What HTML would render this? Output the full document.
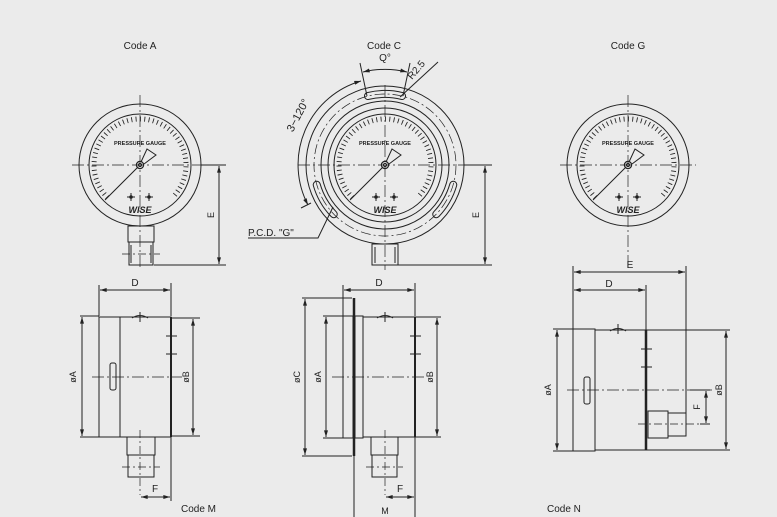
<!DOCTYPE html>
<html><head><meta charset="utf-8"><style>
html,body{margin:0;padding:0;background:#ebebeb;}
svg{display:block;}
text{font-family:"Liberation Sans",sans-serif;fill:#222;}
</style></head><body>
<svg width="777" height="517" viewBox="0 0 777 517" xmlns="http://www.w3.org/2000/svg">
<defs>
<marker id="ar" viewBox="0 0 10 6" refX="10" refY="3" markerWidth="7" markerHeight="4" orient="auto-start-reverse" markerUnits="userSpaceOnUse"><path d="M0,0 L10,3 L0,6 z" fill="#222"/></marker>
</defs>
<rect width="777" height="517" fill="#ebebeb"/>
<g fill="none" stroke="#222" stroke-width="1">

<g transform="translate(140,165)">
 <circle r="61"/><circle r="51"/>
 <path d="M-32.5,32.5 A46,46 0 1 1 32.5,32.5" stroke-width="5" pathLength="200" stroke-dasharray="0.8 3.2"/>
 <circle r="3.6" stroke-width="1.2"/><circle r="1.6"/>
 <path d="M-2,2 L-35,35 M1,-3 L7,-16 L16,-10 L4,-1"/>
 <path d="M-13,32 h8 M-9,28 v8 M5,32 h8 M9,28 v8"/>
 <circle cx="-9" cy="32" r="1.3" fill="#222"/><circle cx="9" cy="32" r="1.3" fill="#222"/>
</g>
<g transform="translate(628,165)">
 <circle r="61"/><circle r="51"/>
 <path d="M-32.5,32.5 A46,46 0 1 1 32.5,32.5" stroke-width="5" pathLength="200" stroke-dasharray="0.8 3.2"/>
 <circle r="3.6" stroke-width="1.2"/><circle r="1.6"/>
 <path d="M-2,2 L-35,35 M1,-3 L7,-16 L16,-10 L4,-1"/>
 <path d="M-13,32 h8 M-9,28 v8 M5,32 h8 M9,28 v8"/>
 <circle cx="-9" cy="32" r="1.3" fill="#222"/><circle cx="9" cy="32" r="1.3" fill="#222"/>
</g>
<g transform="translate(385,165)">
 <circle r="79"/><circle r="64"/><circle r="57"/><circle r="51"/>
 <path d="M-32.5,32.5 A46,46 0 1 1 32.5,32.5" stroke-width="5" pathLength="200" stroke-dasharray="0.8 3.2"/>
 <circle r="3.6" stroke-width="1.2"/><circle r="1.6"/>
 <path d="M-2,2 L-35,35 M1,-3 L7,-16 L16,-10 L4,-1"/>
 <path d="M-13,32 h8 M-9,28 v8 M5,32 h8 M9,28 v8"/>
 <circle cx="-9" cy="32" r="1.3" fill="#222"/><circle cx="9" cy="32" r="1.3" fill="#222"/>
 <g>
  <path d="M-17,-69 A71,71 0 0 1 17,-69" stroke-width="8" stroke-linecap="round"/>
  <path d="M-17,-69 A71,71 0 0 1 17,-69" stroke="#ebebeb" stroke-width="6" stroke-linecap="round"/>
 </g>
 <g transform="rotate(120)">
  <path d="M-17,-69 A71,71 0 0 1 17,-69" stroke-width="8" stroke-linecap="round"/>
  <path d="M-17,-69 A71,71 0 0 1 17,-69" stroke="#ebebeb" stroke-width="6" stroke-linecap="round"/>
 </g>
 <g transform="rotate(240)">
  <path d="M-17,-69 A71,71 0 0 1 17,-69" stroke-width="8" stroke-linecap="round"/>
  <path d="M-17,-69 A71,71 0 0 1 17,-69" stroke="#ebebeb" stroke-width="6" stroke-linecap="round"/>
 </g>
 <circle r="71" stroke-width="0.7" stroke-dasharray="10 3 2 3"/>
 <path d="M-18,-69 L-25,-102 M18,-69 L25,-102"/>
 <path d="M-22,-93 A95,95 0 0 1 22,-93" marker-start="url(#ar)" marker-end="url(#ar)"/>
 <path d="M15,-68 L53,-103"/>
 <path d="M-24,-84 A87,87 0 0 0 -77,40" marker-start="url(#ar)" marker-end="url(#ar)"/>
 <path d="M-74,38 L-84,43"/>
 <path d="M-52,42 L-67,73 L-137,73"/>
</g>

<g stroke-width="0.7" stroke-dasharray="12 3 2 3">
 <path d="M72,165 H210 M140,95 V270"/>
 <path d="M560,165 H696 M628,95 V270"/>
 <path d="M298,165 H472 M385,85 V270"/>
</g>

<path d="M128,226 h26 v16 h-26 z M129,242 h24 v23 h-24 z M131,245 v18 M151,245 v18"/>
<path d="M122,254 H160" stroke-width="0.7" stroke-dasharray="8 3 2 3"/>
<path d="M201,165 H226 M154,265 H226"/>
<path d="M219,166 V264" marker-start="url(#ar)" marker-end="url(#ar)"/>
<path d="M372,244 h26 v21 h-26 z M375,247 v16 M395,247 v16"/>
<path d="M464,165 H492 M398,265 H492"/>
<path d="M485,166 V264" marker-start="url(#ar)" marker-end="url(#ar)"/>

<path d="M99,317 h21 v120 h-21 z M120,317 h51 v120 h-51 z"/>
<path d="M171,317 V437" stroke-width="2"/>
<path d="M132,318 q8,-5 16,0 M140,312 v10"/>
<path d="M166,336 h11 M166,354 h11"/>
<rect x="110" y="363" width="6" height="27" rx="2"/>
<path d="M92,377 H182" stroke-width="0.7" stroke-dasharray="12 3 2 3"/>
<path d="M127,437 h28 v18 h-28 z M128,455 h26 v22 h-26 z"/>
<path d="M122,467 H160 M140,430 V495" stroke-width="0.7" stroke-dasharray="8 3 2 3"/>
<path d="M99,316 V285 M171,316 V283 M80,316 H99 M80,437 H99 M171,318 H200 M171,436 H200 M171,437 V501"/>
<path d="M100,290 H170" marker-start="url(#ar)" marker-end="url(#ar)"/>
<path d="M82,317 V436" marker-start="url(#ar)" marker-end="url(#ar)"/>
<path d="M193,319 V435" marker-start="url(#ar)" marker-end="url(#ar)"/>
<path d="M141,497 H170" marker-start="url(#ar)" marker-end="url(#ar)"/>

<path d="M343,316 h10 v122 h-10 z M355,316 h8 v122 h-8 z M363,317 h52 v120 h-52 z"/>
<path d="M354,298 V456" stroke-width="2.5"/>
<path d="M415,317 V437" stroke-width="2"/>
<path d="M377,318 q8,-5 16,0 M385,312 v10"/>
<path d="M410,336 h11 M410,354 h11"/>
<path d="M332,377 H425" stroke-width="0.7" stroke-dasharray="12 3 2 3"/>
<path d="M371,437 h27 v18 h-27 z M372,455 h25 v22 h-25 z"/>
<path d="M366,467 H403 M385,430 V495" stroke-width="0.7" stroke-dasharray="8 3 2 3"/>
<path d="M343,316 V285 M415,316 V283 M302,298 H352 M302,456 H352 M323,316 H343 M323,438 H343 M415,317 H441 M415,437 H441 M354,456 V517 M415,437 V517"/>
<path d="M344,290 H414" marker-start="url(#ar)" marker-end="url(#ar)"/>
<path d="M305,299 V455" marker-start="url(#ar)" marker-end="url(#ar)"/>
<path d="M326,317 V437" marker-start="url(#ar)" marker-end="url(#ar)"/>
<path d="M437,318 V436" marker-start="url(#ar)" marker-end="url(#ar)"/>
<path d="M386,497 H414" marker-start="url(#ar)" marker-end="url(#ar)"/>

<path d="M573,329 h22 v122 h-22 z M595,330 h51 v120 h-51 z"/>
<path d="M646,330 V450" stroke-width="2.5"/>
<path d="M610,331 q8,-5 16,0 M618,324 v10"/>
<path d="M641,349 h11 M641,367 h11"/>
<rect x="584" y="377" width="6" height="27" rx="2"/>
<path d="M567,390 H712" stroke-width="0.7" stroke-dasharray="12 3 2 3"/>
<path d="M648,411 h20 v27 h-20 z M668,413 h18 v23 h-18 z"/>
<path d="M638,424 H708" stroke-width="0.7" stroke-dasharray="8 3 2 3"/>
<path d="M573,329 V266 M646,330 V285 M686,413 V266 M553,329 H573 M553,451 H573 M646,330 H730 M646,450 H730 M700,424 H710 M690,390 H710"/>
<path d="M574,272 H685" marker-start="url(#ar)" marker-end="url(#ar)"/>
<path d="M574,290 H645" marker-start="url(#ar)" marker-end="url(#ar)"/>
<path d="M557,330 V450" marker-start="url(#ar)" marker-end="url(#ar)"/>
<path d="M726,331 V449" marker-start="url(#ar)" marker-end="url(#ar)"/>
<path d="M706,391 V423" marker-start="url(#ar)" marker-end="url(#ar)"/>
</g>

<g font-size="10">
<text x="140" y="49" text-anchor="middle">Code  A</text>
<text x="384" y="49" text-anchor="middle">Code  C</text>
<text x="628" y="49" text-anchor="middle">Code  G</text>
<text x="181" y="512">Code  M</text>
<text x="547" y="512">Code  N</text>
<text x="135" y="286" text-anchor="middle">D</text>
<text x="379" y="286" text-anchor="middle">D</text>
<text x="609" y="287" text-anchor="middle">D</text>
<text x="630" y="268" text-anchor="middle">E</text>
<text x="155" y="492" text-anchor="middle">F</text>
<text x="400" y="492" text-anchor="middle">F</text>
<text x="385" y="514" text-anchor="middle" font-size="9">M</text>
<text x="385" y="61" text-anchor="middle">Q°</text>
<text x="248" y="236">P.C.D.  "G"</text>
<text transform="translate(412,80) rotate(-50)">R2.5</text>
<text transform="translate(301,117) rotate(-62)" text-anchor="middle" font-size="11">3−120°</text>
<text transform="translate(214,215) rotate(-90)" text-anchor="middle" font-size="9">E</text>
<text transform="translate(479,215) rotate(-90)" text-anchor="middle" font-size="9">E</text>
<text transform="translate(700,407) rotate(-90)" text-anchor="middle" font-size="9">F</text>
<text transform="translate(76,377) rotate(-90)" text-anchor="middle" font-size="9">øA</text>
<text transform="translate(189,377) rotate(-90)" text-anchor="middle" font-size="9">øB</text>
<text transform="translate(300,377) rotate(-90)" text-anchor="middle" font-size="9">øC</text>
<text transform="translate(321,377) rotate(-90)" text-anchor="middle" font-size="9">øA</text>
<text transform="translate(433,377) rotate(-90)" text-anchor="middle" font-size="9">øB</text>
<text transform="translate(551,390) rotate(-90)" text-anchor="middle" font-size="9">øA</text>
<text transform="translate(722,390) rotate(-90)" text-anchor="middle" font-size="9">øB</text>
</g>
<g font-size="5.5" font-weight="bold" text-anchor="middle">
<text x="140" y="145">PRESSURE GAUGE</text>
<text x="628" y="145">PRESSURE GAUGE</text>
<text x="385" y="145">PRESSURE GAUGE</text>
</g>
<g font-size="9" font-weight="bold" font-style="italic" text-anchor="middle">
<text x="140" y="213">WISE</text>
<text x="628" y="213">WISE</text>
<text x="385" y="213">WISE</text>
</g>
</svg>
</body></html>
